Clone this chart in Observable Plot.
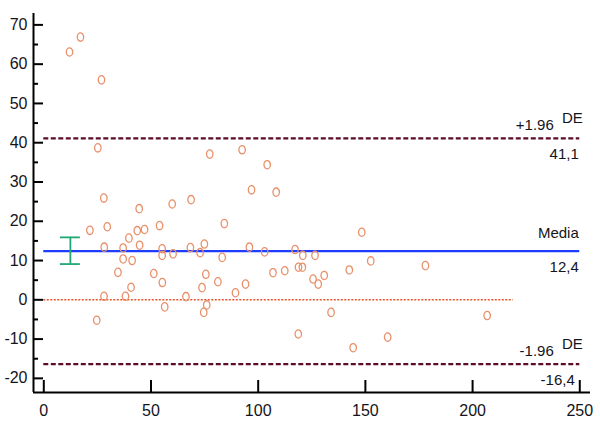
<!DOCTYPE html>
<html>
<head>
<meta charset="utf-8">
<script src="https://cdn.jsdelivr.net/npm/d3@7"></script>
<script src="https://cdn.jsdelivr.net/npm/@observablehq/plot@0.6"></script>
<style>
  html, body { margin: 0; padding: 0; background: #fff; }
  #chart svg { display: block; }
</style>
</head>
<body>
<div id="chart"></div>
<script>
// Bland-Altman data: x = mean of methods, y = difference
const meanValues = [12.0, 17.1, 26.9, 25.2, 28.0, 44.5, 59.9, 68.7, 21.5, 29.6,
  39.7, 43.6, 47.0, 54.0, 28.2, 37.0, 44.7, 37.0, 41.2, 34.6,
  40.7, 28.1, 38.1, 24.7, 55.2, 55.2, 60.3, 51.3, 55.3, 56.4,
  66.3, 68.4, 72.9, 74.9, 83.2, 95.9, 103.0, 117.2, 120.8, 126.5,
  75.6, 73.8, 81.2, 89.4, 94.1, 106.9, 112.4, 118.8, 120.6, 125.6,
  128.0, 130.8, 76.0, 74.6, 134.0, 118.7, 77.4, 92.5, 104.2, 96.9,
  108.4, 84.2, 148.3, 142.5, 152.5, 178.0, 206.8, 160.4, 144.3];
const diffValues = [63.1, 66.9, 56.0, 38.7, 25.9, 23.2, 24.4, 25.5, 17.7, 18.6,
  15.7, 17.6, 17.9, 18.9, 13.4, 13.2, 13.9, 10.4, 10.0, 7.0,
  3.2, 0.9, 0.9, -5.2, 13.0, 11.3, 11.7, 6.7, 4.4, -1.8,
  0.8, 13.3, 12.0, 14.2, 10.8, 13.4, 12.2, 12.8, 11.3, 11.3,
  6.5, 3.1, 4.6, 1.8, 4.0, 6.9, 7.4, 8.3, 8.3, 5.3,
  4.0, 6.2, -1.3, -3.2, -3.2, -8.7, 37.1, 38.2, 34.4, 28.0,
  27.4, 19.4, 17.2, 7.6, 9.9, 8.7, -4.0, -9.5, -12.2];

const meanDiff = 12.4;
const upperLimit = 41.1;
const lowerLimit = -16.4;
const ciMean = [9.1, 15.9];
const ciX = 12.4;
const zeroLineEnd = 219;
const lineEnd = 250;

const xTicks = [0, 50, 100, 150, 200, 250];
const yTicks = [-20, -10, 0, 10, 20, 30, 40, 50, 60, 70];
const yMinorTicks = [-15, -5, 5, 15, 25, 35, 45, 55, 65];

const sdLabels = ["+1.96", "-1.96"];
const sdLabelY = [upperLimit, lowerLimit];
const deLabels = ["DE", "DE"];
const valueLabels = ["41,1", "-16,4"];
const meanLabel = ["Media"];
const meanValueLabel = ["12,4"];

const points = meanValues.map((x, i) => ({x, y: diffValues[i]}));

const W = 600, H = 429;
const mL = 33, mR = 10, mT = 13, mB = 37;
const xDom = [-4.8, 255];
const yDom = [-23.6, 72.9];
const kx = (W - mL - mR) / (xDom[1] - xDom[0]); // px per x unit
const ky = (H - mT - mB) / (yDom[1] - yDom[0]); // px per y unit
const px = (p) => p / kx;
const py = (p) => p / ky;

// slightly tall oval marker, like the original plotting software
const ovalSymbol = {
  draw(context, size) {
    const r = Math.sqrt(size / Math.PI);
    const rx = r * 0.85, ry = r * 1.1, c = 0.5523;
    context.moveTo(rx, 0);
    context.bezierCurveTo(rx, ry * c, rx * c, ry, 0, ry);
    context.bezierCurveTo(-rx * c, ry, -rx, ry * c, -rx, 0);
    context.bezierCurveTo(-rx, -ry * c, -rx * c, -ry, 0, -ry);
    context.bezierCurveTo(rx * c, -ry, rx, -ry * c, rx, 0);
    context.closePath();
  }
};

const font = "'Liberation Sans', Arial, sans-serif";
const ink = "#141420";

const chart = Plot.plot({
  width: W, height: H,
  marginLeft: mL, marginRight: mR, marginTop: mT, marginBottom: mB,
  x: {domain: xDom, axis: null},
  y: {domain: yDom, axis: null},
  style: {background: "#fff", fontFamily: font},
  marks: [
    // zero line
    Plot.ruleY([0], {x1: 0, x2: zeroLineEnd, stroke: "#e4552c", strokeWidth: 1.6, strokeDasharray: "2,1.5"}),
    // limits of agreement
    Plot.ruleY([upperLimit, lowerLimit], {x1: 0, x2: lineEnd, stroke: "#5c0c26", strokeWidth: 2.2, strokeDasharray: "5,2.5"}),
    // mean difference
    Plot.ruleY([meanDiff], {x1: 0, x2: lineEnd, stroke: "#1f3dff", strokeWidth: 2.4}),
    // points
    Plot.dot(points, {x: "x", y: "y", r: 3.8, symbol: ovalSymbol, stroke: "#e8906a", strokeWidth: 1.3, fill: "none"}),
    // CI error bar for the mean
    Plot.ruleX([ciX], {y1: ciMean[0], y2: ciMean[1], stroke: "#1fa874", strokeWidth: 1.8}),
    Plot.ruleY(ciMean, {x1: ciX - px(10), x2: ciX + px(10), stroke: "#1fa874", strokeWidth: 1.8}),
    // axes lines
    Plot.ruleX([xDom[0]], {stroke: "#000", strokeWidth: 2}),
    Plot.ruleY([yDom[0]], {stroke: "#000", strokeWidth: 2}),
    // y ticks (inward)
    Plot.ruleY(yTicks, {x1: xDom[0], x2: xDom[0] + px(10), stroke: "#000", strokeWidth: 2}),
    Plot.ruleY(yMinorTicks, {x1: xDom[0], x2: xDom[0] + px(5), stroke: "#000", strokeWidth: 2}),
    Plot.text(yTicks, {x: xDom[0], y: d => d, text: d => String(d), textAnchor: "end", dx: -6, fontSize: 16, fill: ink}),
    // x ticks (upward)
    Plot.ruleX(xTicks, {y1: yDom[0], y2: yDom[0] + py(12), stroke: "#000", strokeWidth: 2}),
    Plot.text(xTicks, {x: d => d, y: yDom[0], text: d => String(d), dy: 18, fontSize: 16, fill: ink}),
    // line labels
    Plot.text(sdLabels, {x: lineEnd - px(26), y: (d, i) => sdLabelY[i], text: d => d, textAnchor: "end",
      dy: -13, fontSize: 15, fill: ink}),
    Plot.text(deLabels, {x: lineEnd + px(3), y: (d, i) => sdLabelY[i], text: d => d, textAnchor: "end",
      dy: -20, fontSize: 15, fill: ink}),
    Plot.text(valueLabels, {x: (d, i) => lineEnd - px(i ? 5 : 1), y: (d, i) => sdLabelY[i], text: d => d, textAnchor: "end",
      dy: 16, fontSize: 15, fill: ink}),
    Plot.text(meanLabel, {x: lineEnd - px(1), y: meanDiff, text: d => d, textAnchor: "end",
      dy: -18, fontSize: 15, fill: ink}),
    Plot.text(meanValueLabel, {x: lineEnd - px(1), y: meanDiff, text: d => d, textAnchor: "end",
      dy: 16, fontSize: 15, fill: ink})
  ]
});

document.getElementById("chart").append(chart);
</script>
</body>
</html>
